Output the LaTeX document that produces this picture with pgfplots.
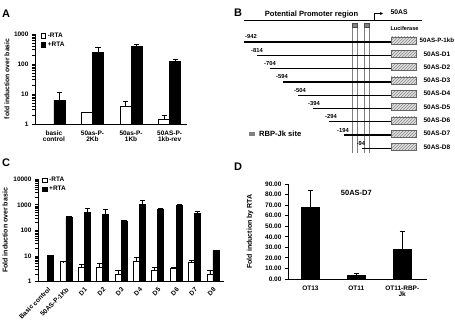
\documentclass[border=0pt]{standalone}
\usepackage{fontspec}
\setmainfont{Liberation Sans}
\usepackage{pgfplots}
\pgfplotsset{compat=1.18}
\usetikzlibrary{patterns,arrows.meta}
\newcommand{\fs}[1]{\fontsize{#1}{#1}\selectfont\bfseries}
\pgfplotsset{
  prism/.style={
    scale only axis,
    axis x line*=bottom, axis y line*=left,
    axis line style={line width=0.9pt},
    tick align=outside,
    major tick length=3pt,
    every tick/.style={line width=0.8pt, black},
    xtick style={draw=none},
    ticklabel style={font=\fs{6.5}},
    ylabel style={font=\fs{6.8}},
    clip=false,
    /pgf/number format/assume math mode=true,
  },
  errs/.style={error bars/.cd, y dir=plus, y explicit,
    error bar style={line width=0.8pt, black},
    error mark=-,
    error mark options={rotate=90, line width=0.8pt, mark size=2.6pt, black}},
  leg/.style={legend style={draw=none, fill=none, font=\fs{6.5}, row sep=-1pt, inner sep=0pt},
    legend cell align=left,
    legend image code/.code={\draw[##1, line width=0.7pt] (0pt,-2.3pt) rectangle (4.6pt,2.3pt);}},
  boxst/.style={draw=black!60, line width=0.4pt, fill=gray!25, postaction={pattern=north east lines, pattern color=gray!90}},
  row/.style={line width=1.2pt, black},
}
\begin{document}
\begin{tikzpicture}
\path[use as bounding box] (0pt,0pt) rectangle (455pt,321pt);

% ---------- Panel A ----------
\node[font=\fs{11}] at (6pt,307pt) {A};
\begin{axis}[prism, leg,
  at={(35pt,197pt)}, anchor=south west,
  width=152pt, height=90pt,
  ymode=log, ymin=1, ymax=1000,
  ytick={1,10,100,1000}, yticklabels={1,10,100,1000},
  xmin=-0.49, xmax=3.45,
  xtick={0,1,2,3},
  xticklabels={{basic\\control},{50as-P-\\2Kb},{50as-P-\\1Kb},{50AS-P-\\1kb-rev}},
  xticklabel style={align=center},
  ylabel={fold induction over basic},
  ylabel style={at={(axis description cs:-0.184,0.5)}, anchor=center},
  legend style={at={(0.035,1.04)}, anchor=north west},
]
% -RTA (drawn left of each category centre)
\addplot[ybar, bar width=11pt, fill=white, draw=black, line width=0.8pt, errs]
  coordinates {(0.857,2.38) +- (0,0.07) (1.857,4.0) +- (0,1.8) (2.857,1.47) +- (0,0.53)};
% +RTA (drawn right of each category centre)
\addplot[ybar, bar width=11pt, fill=black, draw=black, line width=0.8pt, errs]
  coordinates {(0.143,6.2) +- (0,5.0) (1.143,238) +- (0,122) (2.143,378) +- (0,86) (3.143,120) +- (0,19)};
\legend{-RTA,+RTA}
\end{axis}

% ---------- Panel C ----------
\node[font=\fs{11}] at (6pt,158pt) {C};
\begin{axis}[prism, leg,
  at={(38pt,39.3pt)}, anchor=south west,
  width=186pt, height=102.4pt,
  ymode=log, ymin=1, ymax=10000,
  ytick={1,10,100,1000,10000}, yticklabels={1,10,100,1000,10000},
  xmin=-0.52, xmax=9.6,
  xtick={0,1,2,3,4,5,6,7,8,9},
  xticklabels={Basic control,50AS-P-1Kb,D1,D2,D3,D4,D5,D6,D7,D8},
  xticklabel style={rotate=45, anchor=north east, font=\fs{6.5}, inner sep=1.5pt},
  ylabel={Fold induction over basic},
  ylabel style={at={(axis description cs:-0.177,0.5)}, anchor=center, font=\fs{7}},
  legend style={at={(0.02,1.04)}, anchor=north west},
]
% -RTA
\addplot[ybar, bar width=6pt, fill=white, draw=black, line width=0.8pt, errs]
  coordinates {(0.837,6.0) +- (0,0.1) (1.837,3.65) +- (0,0.95) (2.837,3.65) +- (0,1.55) (3.837,2.0) +- (0,0.7)
  (4.837,6.0) +- (0,2.6) (5.837,2.87) +- (0,0.63) (6.837,3.2) +- (0,0.4) (7.837,5.5) +- (0,1.1) (8.837,2.0) +- (0,0.86)};
% +RTA
\addplot[ybar, bar width=6pt, fill=black, draw=black, line width=0.8pt, errs]
  coordinates {(0.163,10.4) +- (0,0.5) (1.163,316) +- (0,52) (2.163,513) +- (0,242) (3.163,430) +- (0,243) (4.163,220) +- (0,18)
  (5.163,1084) +- (0,426) (6.163,692) +- (0,12) (7.163,990) +- (0,25) (8.163,470) +- (0,90) (9.163,16.3) +- (0,0.6)};
\legend{-RTA,+RTA}
\end{axis}

% ---------- Panel D ----------
\node[font=\fs{11}] at (238pt,154pt) {D};
\begin{axis}[prism,
  at={(288pt,42pt)}, anchor=south west,
  width=139pt, height=95pt,
  ymin=0, ymax=90,
  ytick={0,10,20,30,40,50,60,70,80,90},
  yticklabels={0.00,10.00,20.00,30.00,40.00,50.00,60.00,70.00,80.00,90.00},
  xmin=-0.49, xmax=2.54,
  xtick={0,1,2},
  xticklabels={OT13,OT11,{OT11-RBP-\\Jk}},
  xticklabel style={align=center},
  ylabel={Fold induction by RTA},
  ylabel style={at={(axis description cs:-0.273,0.5)}, anchor=center, font=\fs{7}},
]
\addplot[ybar, bar width=18pt, fill=black, draw=black, line width=0.8pt, errs]
  coordinates {(0,67.5) +- (0,16.2) (1,3.2) +- (0,1.8) (2,28.1) +- (0,16.7)};
\node[font=\fs{7.5}] at (axis cs:1.0,81.5) {50AS-D7};
\end{axis}

% ---------- Panel B ----------
\node[font=\fs{11}] at (238pt,308pt) {B};
\begin{axis}[scale only axis, axis lines=none, clip=false,
  at={(225pt,161pt)}, anchor=south west,
  width=230pt, height=160pt,
  xmin=225, xmax=455, ymin=0, ymax=160, y dir=reverse,
]
\addplot[row] coordinates {(244,20.7) (422,20.7)};
\addplot[line width=0.6pt, -{Stealth[length=3pt,width=3pt]}] coordinates {(374,20.7) (374,13.5) (383,13.5)};
\node[font=\fs{7.6}] at (axis cs:311.5,14.5) {Potential Promoter region};
\node[font=\fs{6.8}, anchor=west] at (axis cs:387,12.5) {50AS};
\node[font=\fs{5.6}, anchor=west] at (axis cs:387,28.5) {Luciferase};
% RBP-Jk site columns
\addplot[gray, line width=0.4pt] coordinates {(352,27) (352,153)};
\addplot[gray, line width=0.4pt] coordinates {(357,27) (357,153)};
\addplot[gray, line width=0.4pt] coordinates {(364,27) (364,153)};
\addplot[gray, line width=0.4pt] coordinates {(369,27) (369,153)};
\addplot[fill=gray, draw=black!70, line width=0.3pt] coordinates {(352,23.5) (357,23.5) (357,27) (352,27)} -- cycle;
\addplot[fill=gray, draw=black!70, line width=0.3pt] coordinates {(364,23.5) (369,23.5) (369,27) (364,27)} -- cycle;
% rows
\addplot[row] coordinates {(244.3,42) (391,42)};
\addplot[row] coordinates {(256.7,55.3) (391,55.3)};
\addplot[row] coordinates {(270,68.6) (391,68.6)};
\addplot[row] coordinates {(283.3,82) (391,82)};
\addplot[row] coordinates {(297.7,95.2) (391,95.2)};
\addplot[row] coordinates {(313.3,108.5) (391,108.5)};
\addplot[row] coordinates {(329,121.8) (391,121.8)};
\addplot[row] coordinates {(344.3,135.1) (391,135.1)};
\addplot[row] coordinates {(361.7,148.4) (391,148.4)};
% luciferase boxes
\addplot[boxst] coordinates {(391,37) (416,37) (416,44) (391,44)} -- cycle;
\addplot[boxst] coordinates {(391,50.3) (416,50.3) (416,57.3) (391,57.3)} -- cycle;
\addplot[boxst] coordinates {(391,63.6) (416,63.6) (416,70.6) (391,70.6)} -- cycle;
\addplot[boxst] coordinates {(391,77) (416,77) (416,84) (391,84)} -- cycle;
\addplot[boxst] coordinates {(391,90.2) (416,90.2) (416,97.2) (391,97.2)} -- cycle;
\addplot[boxst] coordinates {(391,103.5) (416,103.5) (416,110.5) (391,110.5)} -- cycle;
\addplot[boxst] coordinates {(391,116.8) (416,116.8) (416,123.8) (391,123.8)} -- cycle;
\addplot[boxst] coordinates {(391,130.1) (416,130.1) (416,137.1) (391,137.1)} -- cycle;
\addplot[boxst] coordinates {(391,143.4) (416,143.4) (416,150.4) (391,150.4)} -- cycle;
% row start labels
\node[font=\fs{5.8}] at (axis cs:251,37) {-942};
\node[font=\fs{5.8}] at (axis cs:257,50.3) {-814};
\node[font=\fs{5.8}] at (axis cs:270,63.6) {-704};
\node[font=\fs{5.8}] at (axis cs:282,77) {-594};
\node[font=\fs{5.8}] at (axis cs:300,90.2) {-504};
\node[font=\fs{5.8}] at (axis cs:314,103.5) {-394};
\node[font=\fs{5.8}] at (axis cs:331,116.8) {-294};
\node[font=\fs{5.8}] at (axis cs:343,130.1) {-194};
\node[font=\fs{5.8}] at (axis cs:361,143.4) {-94};
% construct names
\node[font=\fs{6.2}, anchor=west, inner sep=1pt] at (axis cs:418.5,40.5) {50AS-P-1kb};
\node[font=\fs{6.5}, anchor=west] at (axis cs:420,53.8) {50AS-D1};
\node[font=\fs{6.5}, anchor=west] at (axis cs:420,67.1) {50AS-D2};
\node[font=\fs{6.5}, anchor=west] at (axis cs:420,80.5) {50AS-D3};
\node[font=\fs{6.5}, anchor=west] at (axis cs:420,93.7) {50AS-D4};
\node[font=\fs{6.5}, anchor=west] at (axis cs:420,107) {50AS-D5};
\node[font=\fs{6.5}, anchor=west] at (axis cs:420,120.3) {50AS-D6};
\node[font=\fs{6.5}, anchor=west] at (axis cs:420,133.6) {50AS-D7};
\node[font=\fs{6.5}, anchor=west] at (axis cs:420,146.9) {50AS-D8};
% legend
\addplot[fill=gray, draw=gray] coordinates {(249,132) (254,132) (254,135.5) (249,135.5)} -- cycle;
\node[font=\fs{7.6}, anchor=west] at (axis cs:255.5,134) {RBP-Jk site};
\end{axis}
\end{tikzpicture}
\end{document}
